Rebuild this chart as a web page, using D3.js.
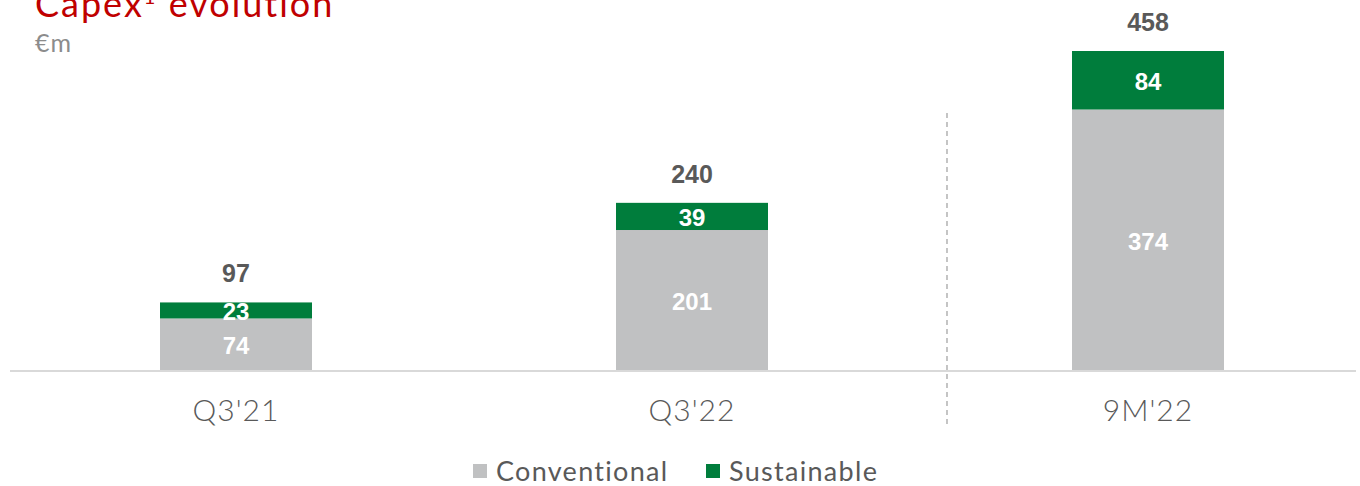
<!DOCTYPE html>
<html><head><meta charset="utf-8">
<script src="https://cdn.jsdelivr.net/npm/d3@7"></script>
<style>body{margin:0;background:#fff;}svg{display:block;}</style>
</head><body>
<svg id="c" width="1360" height="486"></svg>
<script>
const categories = ["Q3'21", "Q3'22", "9M'22"];
const conventional = [74, 201, 374];
const sustainable = [23, 39, 84];
const totals = [97, 240, 458];
const seriesNames = ["Conventional", "Sustainable"];
const seriesColors = ["#c0c1c2", "#007d3c"];

const svg = d3.select("#c");
const baseY = 370;
const x = d3.scaleBand().domain(categories).range([8, 1376]).paddingInner(2/3).paddingOuter(1/3);
const y = d3.scaleLinear().domain([0, 458]).range([baseY, 51]);

const catFont = "Lato, 'Open Sans', sans-serif";
const numFont = "'Liberation Sans', Arial, sans-serif";

// Title
const t = svg.append("text").attr("x", 35).attr("y", 17).attr("font-family", catFont)
  .attr("font-size", 36).attr("fill", "#c00000").attr("letter-spacing", 2);
t.append("tspan").text("Capex");
t.append("tspan").attr("font-size", 20).attr("dy", -13).text("1");
t.append("tspan").attr("dy", 13).text(" evolution");
svg.append("text").attr("x", 35).attr("y", 52).attr("font-family", catFont)
  .attr("font-size", 25).attr("fill", "#8c8c8c").attr("letter-spacing", 1).text("€m");

// stack
const rows = categories.map((c, i) => ({cat: c, Conventional: conventional[i], Sustainable: sustainable[i]}));
const stack = d3.stack().keys(seriesNames)(rows);

stack.forEach((layer, li) => {
  svg.append("g").selectAll("rect").data(layer).join("rect")
    .attr("x", d => x(d.data.cat)).attr("width", x.bandwidth())
    .attr("y", d => y(d[1])).attr("height", d => y(d[0]) - y(d[1]))
    .attr("fill", seriesColors[li]);
  svg.append("g").selectAll("text").data(layer).join("text")
    .attr("x", d => x(d.data.cat) + x.bandwidth()/2)
    .attr("y", d => (y(d[0]) + y(d[1]))/2 + 10)
    .attr("text-anchor", "middle").attr("font-family", numFont).attr("font-weight", "bold")
    .attr("font-size", 24).attr("fill", "#ffffff")
    .text(d => d[1] - d[0]);
});

// totals
svg.append("g").selectAll("text").data(categories).join("text")
  .attr("x", d => x(d) + x.bandwidth()/2)
  .attr("y", (d, i) => y(totals[i]) - 20)
  .attr("text-anchor", "middle").attr("font-family", numFont).attr("font-weight", "bold")
  .attr("font-size", 25).attr("fill", "#595959")
  .text((d, i) => totals[i]);

// axis line
svg.append("line").attr("x1", 10).attr("x2", 1356).attr("y1", baseY + 1).attr("y2", baseY + 1)
  .attr("stroke", "#d9d9d9").attr("stroke-width", 2);

// category labels
const xAxis = d3.axisBottom(x).tickSize(0).tickPadding(0);
const ax = svg.append("g").attr("transform", `translate(0,${baseY})`).call(xAxis);
ax.select(".domain").remove();
ax.selectAll("text").attr("font-family", catFont).attr("font-weight", 300)
  .attr("font-size", 30).attr("letter-spacing", 1).attr("fill", "#595959").attr("dy", null).attr("y", 51);

// dashed separator
svg.append("line").attr("x1", 947).attr("x2", 947).attr("y1", 113).attr("y2", 428)
  .attr("stroke", "#a6a6a6").attr("stroke-width", 1.3).attr("stroke-dasharray", "5,4");

// legend
const legX = [473, 706];
seriesNames.forEach((n, i) => {
  svg.append("rect").attr("x", legX[i]).attr("y", 464).attr("width", 14).attr("height", 14).attr("fill", seriesColors[i]);
  svg.append("text").attr("x", legX[i] + 23).attr("y", 481).attr("font-family", catFont)
    .attr("font-size", 27).attr("letter-spacing", 1.3).attr("fill", "#595959").text(n);
});
</script>
</body></html>
